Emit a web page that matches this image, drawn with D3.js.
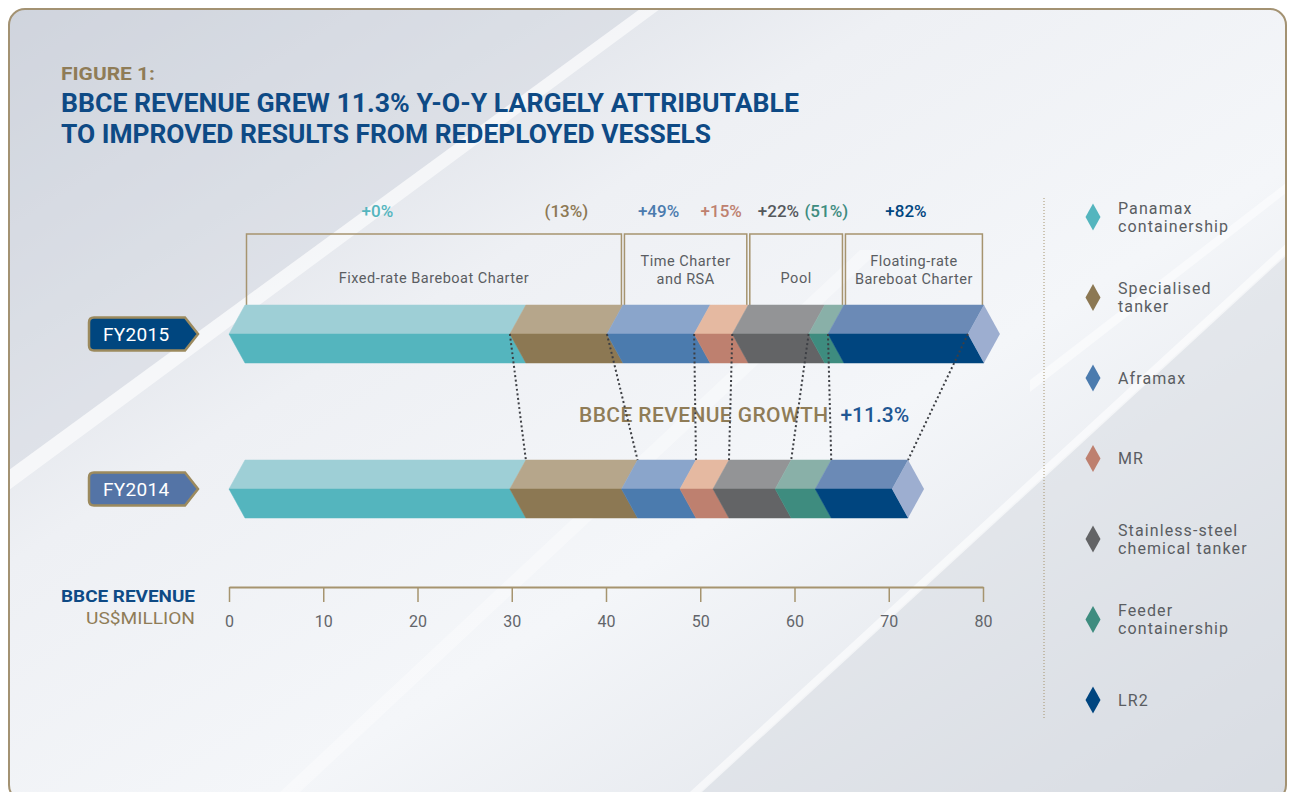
<!DOCTYPE html>
<html>
<head>
<meta charset="utf-8">
<script src="https://cdn.jsdelivr.net/npm/d3@7"></script>
<style>
  body { margin: 0; background: #fff; }
  svg { display: block; font-family: Roboto, "Noto Sans", sans-serif; }
</style>
</head>
<body>
<svg id="chart" width="1290" height="792"></svg>
<script>
// ── Data ────────────────────────────────────────────────────────────────────
const years = ['FY2015', 'FY2014'];
const vessels = ['Panamax containership', 'Specialised tanker', 'Aframax', 'MR',
  'Stainless-steel chemical tanker', 'Feeder containership', 'LR2'];
const legendLines = [['Panamax', 'containership'], ['Specialised', 'tanker'], ['Aframax'], ['MR'],
  ['Stainless-steel', 'chemical tanker'], ['Feeder', 'containership'], ['LR2']];
const revenue2015 = [29.8, 10.3, 9.25, 4.05, 8.1, 2.05, 14.85];   // US$ million
const revenue2014 = [29.8, 11.85, 6.2, 3.5, 6.6, 4.25, 8.15];
const growthLabels = ['+0%', '(13%)', '+49%', '+15%', '+22%', '(51%)', '+82%'];
const charterTypes = [['Fixed-rate Bareboat Charter'], ['Time Charter', 'and RSA'], ['Pool'],
  ['Floating-rate', 'Bareboat Charter']];
const charterVesselCount = [2, 2, 2, 1];
const axisTicks = [0, 10, 20, 30, 40, 50, 60, 70, 80];
const totalGrowth = '+11.3%';

// ── Styles ──────────────────────────────────────────────────────────────────
const TOP_COLORS = ['#9ecfd6', '#b6a68b', '#8aa5cb', '#e5b9a1', '#939496', '#89b0a8', '#6b8ab6'];
const BOTTOM_COLORS = ['#54b5be', '#8c7853', '#4b7bae', '#be806f', '#636466', '#3e8c7f', '#00457f'];
const CAP_COLOR = '#9daed0';
const NAVY = '#0e4a85', TAN = '#8f7c57', LINE_TAN = '#a6946f', GREY_TXT = '#5a5d62';
const BADGE_FILL = { FY2015: '#00467f', FY2014: '#5474a6' };

const W = 1290, H = 792;
const HALF = 29, SLANT = 16;

const svg = d3.select('#chart');
const x = d3.scaleLinear().domain([0, 80]).range([229, 983]);
const yMid = d3.scalePoint().domain(years).range([334, 489]);

// ── Background & frame ──────────────────────────────────────────────────────
const defs = svg.append('defs');
const bg = defs.append('linearGradient').attr('id', 'bgGrad')
  .attr('x1', '0%').attr('y1', '0%').attr('x2', '100%').attr('y2', '100%');
bg.append('stop').attr('offset', '0%').attr('stop-color', '#cdd2db');
bg.append('stop').attr('offset', '35%').attr('stop-color', '#eef0f4');
bg.append('stop').attr('offset', '60%').attr('stop-color', '#f4f6f9');
bg.append('stop').attr('offset', '100%').attr('stop-color', '#d9dde4');
defs.append('clipPath').attr('id', 'frameClip')
  .append('rect').attr('x', 9).attr('y', 9).attr('width', W - 13).attr('height', H).attr('rx', 16);

svg.append('rect').attr('x', 9).attr('y', 9).attr('width', W - 13).attr('height', H).attr('rx', 16)
  .attr('fill', 'url(#bgGrad)');

// diagonal light streaks
const streaks = svg.append('g').attr('clip-path', 'url(#frameClip)');
const streakShapes = [
  { pts: [[9, 9], [640, 9], [9, 470]], fill: '#d3d7df', op: 0.45 },
  { pts: [[9, 470], [640, 9], [660, 9], [9, 490]], fill: '#ffffff', op: 0.6 },
  { pts: [[700, 792], [1290, 250], [1290, 792]], fill: '#d8dbe2', op: 0.5 },
  { pts: [[690, 792], [1290, 240], [1290, 252], [702, 792]], fill: '#ffffff', op: 0.6 },
  { pts: [[1030, 380], [1290, 180], [1290, 190], [1030, 392]], fill: '#ffffff', op: 0.5 },
  { pts: [[280, 792], [860, 250], [880, 250], [300, 792]], fill: '#ffffff', op: 0.35 }
];
streaks.selectAll('polygon').data(streakShapes).join('polygon')
  .attr('points', d => d.pts.join(' ')).attr('fill', d => d.fill).attr('opacity', d => d.op);

svg.append('rect').attr('x', 9).attr('y', 9).attr('width', W - 13).attr('height', H).attr('rx', 16)
  .attr('fill', 'none').attr('stroke', '#a39272').attr('stroke-width', 2);

// ── Title ───────────────────────────────────────────────────────────────────
svg.append('text').attr('x', 61).attr('y', 80).attr('font-size', 18).attr('font-weight', 700)
  .attr('fill', TAN).attr('textLength', 94).attr('lengthAdjust', 'spacingAndGlyphs').text('FIGURE 1:');
const titleLines = ['BBCE REVENUE GREW 11.3% Y-O-Y LARGELY ATTRIBUTABLE', 'TO IMPROVED RESULTS FROM REDEPLOYED VESSELS'];
const titleWidths = [738, 650];
svg.selectAll('.title').data(titleLines).join('text').attr('class', 'title')
  .attr('x', 61).attr('y', (d, i) => 112 + i * 31)
  .attr('font-size', 25).attr('font-weight', 700).attr('fill', NAVY)
  .attr('textLength', (d, i) => titleWidths[i]).attr('lengthAdjust', 'spacingAndGlyphs')
  .text(d => d);

// ── Stacks ──────────────────────────────────────────────────────────────────
function stack(values) {
  let c = 0;
  return values.map((v, i) => { const s = c; c += v; return { i, start: s, end: c, value: v }; });
}
const stacks = { FY2015: stack(revenue2015), FY2014: stack(revenue2014) };

const poly = pts => pts.map(p => p.join(',')).join(' ');
const topFace = (d, m) => poly([[x(d.start) + SLANT, m - HALF], [x(d.end) + SLANT, m - HALF], [x(d.end), m], [x(d.start), m]]);
const bottomFace = (d, m) => poly([[x(d.start), m], [x(d.end), m], [x(d.end) + SLANT, m + HALF], [x(d.start) + SLANT, m + HALF]]);

// ── Charter-type brackets above FY2015 ─────────────────────────────────────
const barTop = yMid('FY2015') - HALF;
const boxTop = barTop - 71;
let idx = 0;
const groups = charterTypes.map((lines, g) => {
  const first = stacks.FY2015[idx], last = stacks.FY2015[idx + charterVesselCount[g] - 1];
  idx += charterVesselCount[g];
  return { lines, x0: x(first.start) + SLANT + 1.5, x1: x(last.end) + SLANT - 1.5 };
});
const gSel = svg.append('g').selectAll('g').data(groups).join('g');
gSel.append('path')
  .attr('d', d => `M${d.x0},${barTop} V${boxTop} H${d.x1} V${barTop}`)
  .attr('fill', 'none').attr('stroke', LINE_TAN).attr('stroke-width', 1.5);
gSel.each(function (d) {
  const t = d3.select(this).append('text').attr('text-anchor', 'middle')
    .attr('font-size', 14.5).attr('fill', GREY_TXT).attr('letter-spacing', 0.5);
  const base = d.lines.length === 1 ? boxTop + 49 : boxTop + 32;
  d.lines.forEach((line, k) => {
    t.append('tspan').attr('x', (d.x0 + d.x1) / 2).attr('y', base + k * 18).text(line);
  });
});

// growth % per vessel
svg.append('g').selectAll('text').data(stacks.FY2015).join('text')
  .attr('x', d => (x(d.start) + x(d.end)) / 2 + 8).attr('y', boxTop - 17)
  .attr('text-anchor', 'middle').attr('font-size', 17).attr('font-weight', 500)
  .attr('fill', d => d.i === 4 ? '#55585c' : BOTTOM_COLORS[d.i])
  .text(d => growthLabels[d.i]);

// ── Bars ────────────────────────────────────────────────────────────────────
years.forEach(year => {
  const m = yMid(year);
  const data = stacks[year];
  const g = svg.append('g').attr('class', 'bar');
  g.selectAll('.top').data(data).join('polygon').attr('class', 'top')
    .attr('points', d => topFace(d, m)).attr('fill', d => TOP_COLORS[d.i])
    .attr('stroke', d => TOP_COLORS[d.i]).attr('stroke-width', 0.5);
  g.selectAll('.bottom').data(data).join('polygon').attr('class', 'bottom')
    .attr('points', d => bottomFace(d, m)).attr('fill', d => BOTTOM_COLORS[d.i])
    .attr('stroke', d => BOTTOM_COLORS[d.i]).attr('stroke-width', 0.5);
  const end = x(data[data.length - 1].end);
  g.append('polygon')
    .attr('points', poly([[end, m], [end + SLANT, m - HALF], [end + 2 * SLANT, m], [end + SLANT, m + HALF]]))
    .attr('fill', CAP_COLOR);
});

// ── Growth caption ──────────────────────────────────────────────────────────
const cap = svg.append('text').attr('x', 579).attr('y', 422).attr('font-size', 21).attr('font-weight', 500);
cap.append('tspan').attr('fill', TAN).attr('letter-spacing', 0.4).text('BBCE REVENUE GROWTH');
cap.append('tspan').attr('fill', '#1f5793').attr('dx', 12).text(totalGrowth);

// ── Dotted connectors FY2015 → FY2014 ─────────────────────────────────────
const m15 = yMid('FY2015'), m14 = yMid('FY2014');
svg.append('g').selectAll('line').data(stacks.FY2015).join('line')
  .attr('x1', d => x(d.end)).attr('y1', m15)
  .attr('x2', d => x(stacks.FY2014[d.i].end) + SLANT).attr('y2', m14 - HALF)
  .attr('stroke', '#3d3f44').attr('stroke-width', 2).attr('stroke-dasharray', '2,2.6');

// ── Year badges ─────────────────────────────────────────────────────────────
const badge = svg.append('g').selectAll('g').data(years).join('g')
  .attr('transform', d => `translate(89,${yMid(d)})`);
badge.append('path')
  .attr('d', 'M5,-16.5 H96 L109,0 L96,16.5 H5 Q0,16.5 0,11.5 V-11.5 Q0,-16.5 5,-16.5 Z')
  .attr('fill', d => BADGE_FILL[d]).attr('stroke', '#9c8a5e').attr('stroke-width', 2.5);
badge.append('text').attr('x', 14).attr('y', 7).attr('font-size', 19).attr('fill', '#fff')
  .attr('letter-spacing', 0.3).text(d => d);

// ── Axis ────────────────────────────────────────────────────────────────────
const axisY = 587;
const axis = svg.append('g').attr('transform', `translate(0,${axisY})`)
  .call(d3.axisBottom(x).tickValues(axisTicks).tickSize(15).tickSizeOuter(0).tickPadding(14));
axis.select('.domain').attr('stroke', LINE_TAN).attr('stroke-width', 2);
axis.selectAll('.tick line').attr('stroke', LINE_TAN).attr('stroke-width', 1.5);
axis.selectAll('.tick text').attr('font-size', 16).attr('font-family', 'Roboto, sans-serif')
  .attr('fill', '#62656a');

svg.append('text').attr('x', 195).attr('y', 602).attr('text-anchor', 'end').attr('font-size', 17)
  .attr('font-weight', 700).attr('fill', NAVY).attr('textLength', 134)
  .attr('lengthAdjust', 'spacingAndGlyphs').text('BBCE REVENUE');
svg.append('text').attr('x', 195).attr('y', 624).attr('text-anchor', 'end').attr('font-size', 16)
  .attr('fill', TAN).attr('textLength', 109).attr('lengthAdjust', 'spacingAndGlyphs').text('US$MILLION');

// ── Legend ──────────────────────────────────────────────────────────────────
svg.append('line').attr('x1', 1044).attr('x2', 1044).attr('y1', 198).attr('y2', 718)
  .attr('stroke', LINE_TAN).attr('stroke-width', 1).attr('stroke-dasharray', '1,2');
const legendY = d3.scalePoint().domain(vessels).range([217, 700]);
const item = svg.append('g').selectAll('g').data(vessels).join('g')
  .attr('transform', d => `translate(1093,${legendY(d)})`);
item.append('path').attr('d', 'M0,-13.5 L7.5,0 L0,13.5 L-7.5,0 Z')
  .attr('fill', (d, i) => BOTTOM_COLORS[i]);
item.each(function (d, i) {
  const lines = legendLines[i];
  const t = d3.select(this).append('text').attr('font-size', 16).attr('fill', GREY_TXT)
    .attr('letter-spacing', 1.1);
  lines.forEach((line, k) => {
    t.append('tspan').attr('x', 25)
      .attr('y', lines.length === 1 ? 5.5 : -3.5 + k * 18).text(line);
  });
});
</script>
</body>
</html>
